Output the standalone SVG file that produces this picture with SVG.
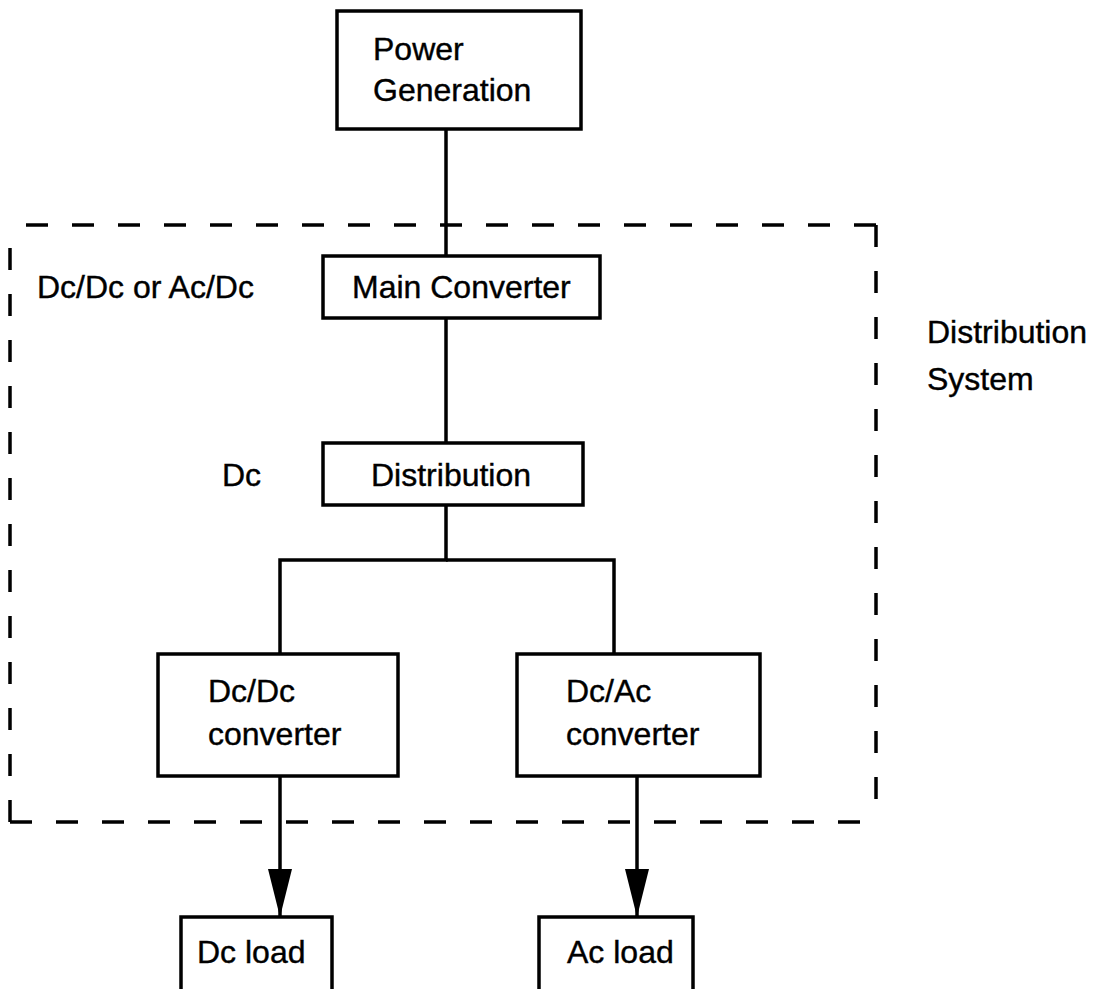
<svg xmlns="http://www.w3.org/2000/svg" width="1096" height="989" viewBox="0 0 1096 989">
  <style>
    .box { fill: #fff; stroke: #000; stroke-width: 3.5; }
    .wire { fill: none; stroke: #000; stroke-width: 3.5; }
    .dash { fill: none; stroke: #000; stroke-width: 3.5; stroke-dasharray: 22 24; }
    text { font-family: "Liberation Sans", Arial, Helvetica, sans-serif; font-size: 32px; fill: #000; stroke: #000; stroke-width: 0.4; }
  </style>
  <defs>
    <marker id="arrow" markerUnits="userSpaceOnUse" markerWidth="48" markerHeight="24" refX="48" refY="12" orient="auto" viewBox="0 0 48 24">
      <path d="M0,0 L48,12 L0,24 Z" fill="#000"/>
    </marker>
  </defs>

  <!-- Distribution system boundary -->
  <g id="boundary">
    <line class="dash" x1="10" y1="822" x2="10" y2="225"/>
    <line class="dash" x1="10" y1="822" x2="876" y2="822"/>
    <line class="dash" x1="876" y1="225" x2="876" y2="822"/>
    <line class="dash" x1="876" y1="225" x2="10" y2="225"/>
  </g>

  <!-- Connectors -->
  <g id="connectors">
    <line class="wire" x1="446" y1="129" x2="446" y2="256"/>
    <line class="wire" x1="446" y1="318" x2="446" y2="443"/>
    <polyline class="wire" points="446,505 446,560 280,560 280,654"/>
    <polyline class="wire" points="446,560 614,560 614,654"/>
    <line class="wire" x1="280" y1="776" x2="280" y2="917" marker-end="url(#arrow)"/>
    <line class="wire" x1="637" y1="776" x2="637" y2="917" marker-end="url(#arrow)"/>
  </g>

  <g id="power-generation">
    <rect class="box" x="337" y="11" width="244" height="118"/>
    <text x="373" y="60">Power</text>
    <text x="373" y="101">Generation</text>
  </g>

  <g id="main-converter">
    <rect class="box" x="323" y="256" width="277" height="62"/>
    <text x="352" y="298">Main Converter</text>
  </g>

  <g id="distribution">
    <rect class="box" x="323" y="443" width="260" height="62"/>
    <text x="371" y="486">Distribution</text>
  </g>

  <g id="dcdc-converter">
    <rect class="box" x="158" y="654" width="240" height="122"/>
    <text x="208" y="702">Dc/Dc</text>
    <text x="208" y="745">converter</text>
  </g>

  <g id="dcac-converter">
    <rect class="box" x="517" y="654" width="243" height="122"/>
    <text x="566" y="702">Dc/Ac</text>
    <text x="566" y="745">converter</text>
  </g>

  <g id="dc-load">
    <rect class="box" x="181" y="917" width="151" height="80"/>
    <text x="197" y="963">Dc load</text>
  </g>

  <g id="ac-load">
    <rect class="box" x="539" y="917" width="154" height="80"/>
    <text x="567" y="963">Ac load</text>
  </g>

  <g id="labels">
    <text x="37" y="298">Dc/Dc or Ac/Dc</text>
    <text x="222" y="486">Dc</text>
    <text x="927" y="343">Distribution</text>
    <text x="927" y="390">System</text>
  </g>
</svg>
